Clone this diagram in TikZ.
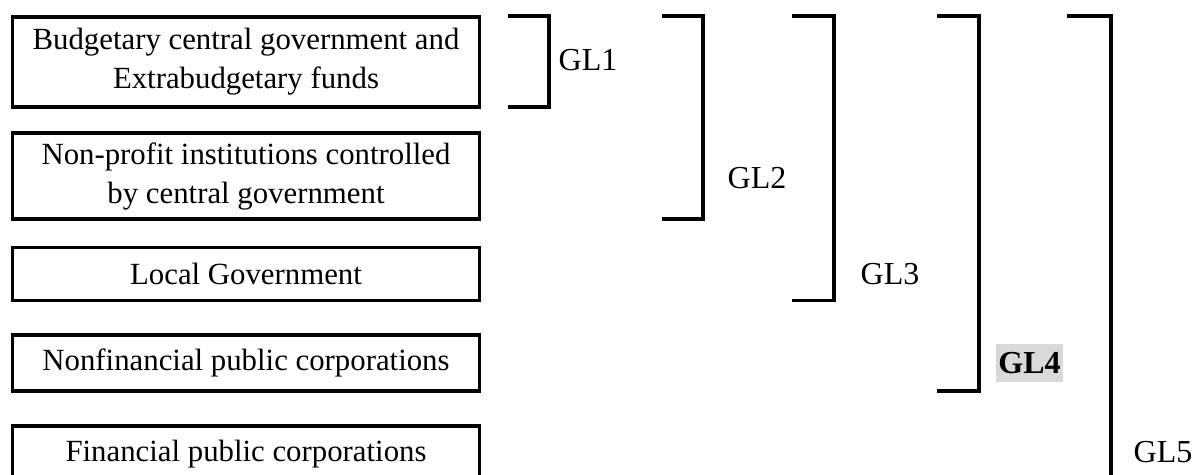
\documentclass[tikz,border=0pt]{standalone}
\usepackage{fontspec}
\setmainfont{Liberation Serif}
\begin{document}
\begin{tikzpicture}[x=0.5pt,y=-0.5pt,
  sector/.style={draw, line width=1.65pt, outer sep=0pt, inner sep=0pt,
    minimum width=233.75pt, align=center, font=\fontsize{15.4}{19.5}\selectfont},
  bracket/.style={line width=1.65pt},
  level/.style={inner sep=0pt, font=\fontsize{16}{19.5}\selectfont}]
\clip (0,0) rectangle (1194,475);

% Sectors
\node[sector, minimum height=45pt] (bcg) at (246,62) {Budgetary central government and\\Extrabudgetary funds};
\node[sector, minimum height=43pt] (npi) at (246,176) {Non-profit institutions controlled\\by central government};
\node[sector, minimum height=26.5pt] (lg) at (246,273.7) {Local Government};
\node[sector, minimum height=28pt] (nfpc) at (246,363) {Nonfinancial public corporations};
\node[sector, minimum height=28pt] (fpc) at (246,454) {Financial public corporations};

% Brackets
\draw[bracket] (508,16) -| (549,0 |- bcg.south) -- (508,0 |- bcg.south);
\draw[bracket] (662,16) -| (703,0 |- npi.south) -- (662,0 |- npi.south);
\draw[bracket] (792,16) -| (834,0 |- lg.south) -- (792,0 |- lg.south);
\draw[bracket] (937,16) -| (979,0 |- nfpc.south) -- (937,0 |- nfpc.south);
\draw[bracket] (1067,16) -| (1111,0 |- fpc.south);

% Levels
\node[level] (gl1) at (588,60) {GL1};
\node[level] (gl2) at (757,178) {GL2};
\node[level] (gl3) at (890,274) {GL3};
\node[level, fill=black!15, inner xsep=1pt, minimum height=19pt,
  font=\fontsize{16}{19.5}\selectfont\bfseries] (gl4) at (1029.5,363) {GL4};
\node[level] (gl5) at (1163,452) {GL5};

\end{tikzpicture}
\end{document}
